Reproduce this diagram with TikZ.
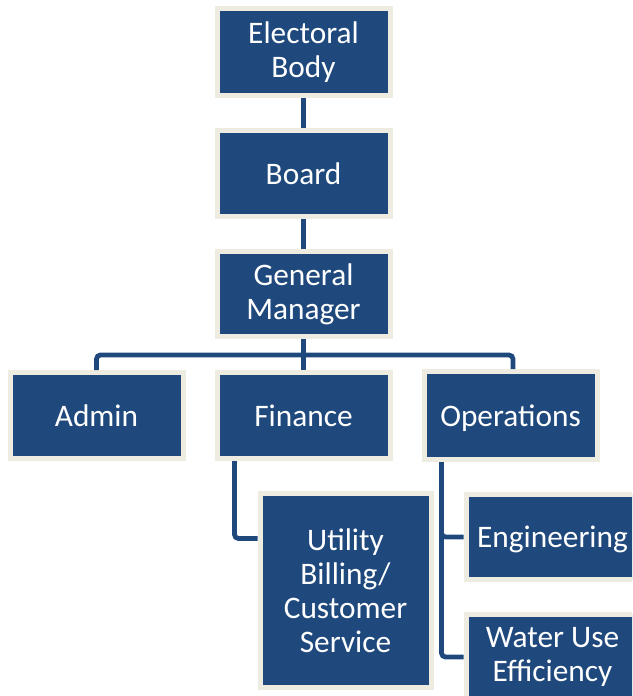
\documentclass[tikz,border=0pt]{standalone}
\usepackage{fontspec}
\setmainfont{Carlito}
\definecolor{boxblue}{RGB}{31,73,125}
\definecolor{boxrim}{RGB}{238,236,225}
\tikzset{
  unit/.style={rectangle, fill=boxblue, draw=boxrim, line width=3.75pt,
    text=white, align=center, inner sep=0pt,
    font=\fontsize{23.5}{25.5}\selectfont},
  link/.style={draw=boxblue, line width=3.6pt, rounded corners=3pt}
}

\begin{document}
\begin{tikzpicture}[x=0.75pt,y=-0.75pt]
        \useasboundingbox (0,0) rectangle (632,696);
        \clip (0,0) rectangle (632,696);
        % top of the chart
        \node[unit, minimum width=129.75pt, minimum height=65.25pt] (elect) at (303.5,52) {Electoral\\Body};
        \node[unit, minimum width=129.75pt, minimum height=64.5pt] (board) at (303.5,173.5) {Board};
        \node[unit, minimum width=129.75pt, minimum height=63.75pt] (gm) at (303.5,294) {General\\Manager};
        % departments
        \node[unit, minimum width=129.75pt, minimum height=64.5pt] (admin) at (96.5,415.5) {Admin};
        \node[unit, minimum width=129.75pt, minimum height=64.5pt] (fin) at (303.5,415.5) {Finance};
        \node[unit, minimum width=129.75pt, minimum height=66pt, text depth=0pt] (ops) at (510.5,415.5) {Operations};
        % sub units
        \node[unit, minimum width=128.25pt, minimum height=145.5pt] (util) at (345.5,590.5) {Utility\\Billing/\\Customer\\Service};
        \node[unit, minimum width=129.75pt, minimum height=63.75pt, text depth=0pt] (eng) at (552.5,537) {Engineering};
        \node[unit, minimum width=129.75pt, minimum height=63.75pt] (water) at (552.5,657) {Water Use\\Efficiency};
        % connectors
        \coordinate (busL) at (96.5,355);
        \coordinate (busR) at (513,355);
        \draw[link] (elect.south) -- (board.north);
        \draw[link] (board.south) -- (gm.north);
        \draw[link] (gm.south) -- (fin.north);
        \draw[link] (admin.north) -- (busL) -- (busR) -- (busR |- ops.north);
        \draw[link] (fin.south west) ++(20,0) |- ([yshift=39pt]util.west);
        \draw[link] (ops.south west) ++(20,0) |- (eng.west);
        \draw[link] (ops.south west) ++(20,0) |- (water.west);
\end{tikzpicture}
\end{document}
